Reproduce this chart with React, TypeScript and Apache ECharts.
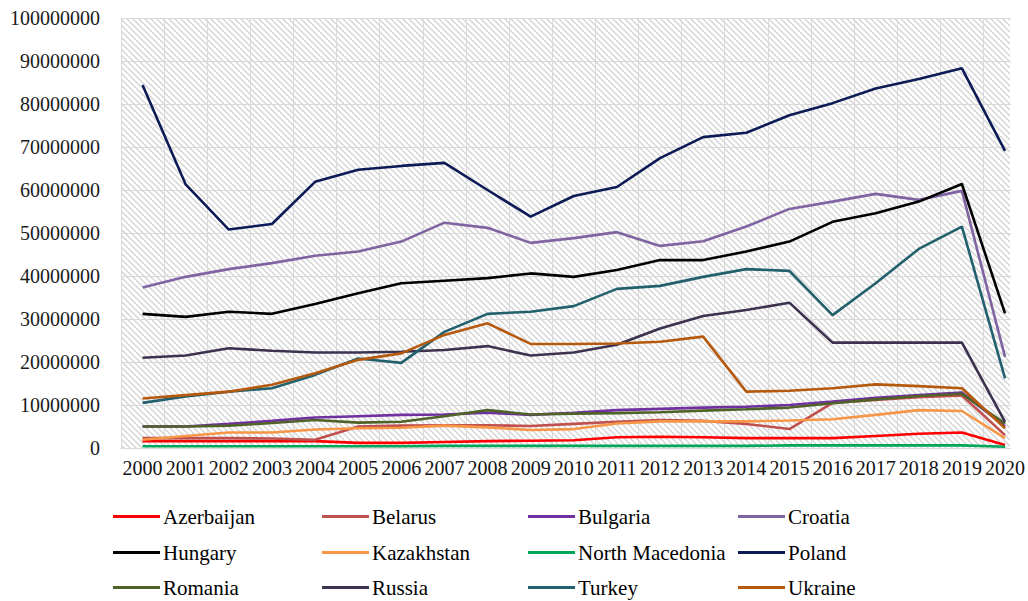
import React, { useEffect, useRef } from "react";
import * as echarts from "echarts";

// Years on the x axis
const years = [
  "2000", "2001", "2002", "2003", "2004", "2005", "2006", "2007", "2008", "2009", "2010",
  "2011", "2012", "2013", "2014", "2015", "2016", "2017", "2018", "2019", "2020",
];

// Values, in millions
const azerbaijan = [1.6, 1.6, 1.6, 1.6, 1.6, 1.2, 1.2, 1.4, 1.6, 1.7, 1.8, 2.5, 2.6, 2.5, 2.3, 2.3, 2.3, 2.8, 3.3, 3.6, 0.7];
const belarus = [2.3, 2.3, 2.3, 2.2, 1.9, 5.0, 5.2, 5.3, 5.3, 5.1, 5.6, 6.1, 6.5, 6.3, 5.6, 4.4, 10.5, 11.2, 11.8, 12.2, 3.0];
const bulgaria = [5.0, 5.0, 5.6, 6.3, 7.1, 7.4, 7.7, 7.8, 8.2, 7.7, 8.2, 8.8, 9.1, 9.4, 9.6, 10.0, 10.8, 11.7, 12.3, 12.9, 5.0];
const croatia = [37.3, 39.8, 41.6, 43.0, 44.7, 45.7, 48.0, 52.4, 51.2, 47.7, 48.8, 50.2, 47.0, 48.1, 51.5, 55.6, 57.3, 59.1, 57.7, 59.8, 21.2];
const hungary = [31.2, 30.5, 31.7, 31.2, 33.5, 36.0, 38.3, 38.9, 39.5, 40.6, 39.8, 41.4, 43.7, 43.7, 45.7, 48.0, 52.6, 54.6, 57.3, 61.4, 31.3];
const kazakhstan = [1.9, 2.8, 3.6, 3.6, 4.3, 4.6, 4.7, 5.2, 4.8, 4.2, 4.4, 5.7, 6.2, 6.2, 6.2, 6.4, 6.7, 7.7, 8.8, 8.6, 2.3];
const northMacedonia = [0.4, 0.4, 0.4, 0.4, 0.4, 0.4, 0.4, 0.5, 0.5, 0.5, 0.5, 0.5, 0.5, 0.5, 0.5, 0.6, 0.6, 0.6, 0.6, 0.6, 0.3];
const poland = [84.4, 61.3, 50.8, 52.1, 61.9, 64.7, 65.6, 66.3, 60.0, 53.8, 58.6, 60.7, 67.4, 72.3, 73.3, 77.4, 80.2, 83.6, 85.8, 88.3, 69.1];
const romania = [5.0, 5.0, 5.2, 5.8, 6.5, 5.9, 6.1, 7.4, 8.8, 7.8, 8.0, 8.1, 8.3, 8.7, 9.0, 9.4, 10.4, 11.3, 12.1, 12.6, 5.7];
const russia = [21.0, 21.5, 23.2, 22.6, 22.2, 22.2, 22.4, 22.8, 23.7, 21.5, 22.2, 24.0, 27.8, 30.7, 32.1, 33.8, 24.5, 24.5, 24.5, 24.5, 6.1];
const turkey = [10.5, 12.0, 13.1, 13.9, 17.0, 20.8, 19.8, 27.0, 31.2, 31.7, 33.0, 37.0, 37.7, 39.8, 41.6, 41.2, 30.9, 38.3, 46.3, 51.5, 16.2];
const ukraine = [11.5, 12.3, 13.1, 14.7, 17.4, 20.5, 22.0, 26.3, 29.0, 24.2, 24.2, 24.3, 24.7, 25.9, 13.1, 13.3, 13.9, 14.8, 14.4, 13.9, 4.6];

const countries = [
  { name: "Azerbaijan", data: azerbaijan, color: "#ff0000" },
  { name: "Belarus", data: belarus, color: "#c0504d" },
  { name: "Bulgaria", data: bulgaria, color: "#7030a0" },
  { name: "Croatia", data: croatia, color: "#8064a2" },
  { name: "Hungary", data: hungary, color: "#000000" },
  { name: "Kazakhstan", data: kazakhstan, color: "#f79646" },
  { name: "North Macedonia", data: northMacedonia, color: "#00a65a" },
  { name: "Poland", data: poland, color: "#0c1a55" },
  { name: "Romania", data: romania, color: "#4f6228" },
  { name: "Russia", data: russia, color: "#3d3150" },
  { name: "Turkey", data: turkey, color: "#23606e" },
  { name: "Ukraine", data: ukraine, color: "#b5590f" },
];

const legendCols = [113, 322, 528, 738];
const legendRows = [506, 542, 577];

function makeHatch(): HTMLCanvasElement {
  const c = document.createElement("canvas");
  c.width = 6;
  c.height = 6;
  const ctx = c.getContext("2d")!;
  ctx.fillStyle = "#ffffff";
  ctx.fillRect(0, 0, 6, 6);
  ctx.strokeStyle = "#d4d4d4";
  ctx.lineWidth = 1.4;
  for (const off of [-6, 0, 6]) {
    ctx.beginPath();
    ctx.moveTo(off - 1, -1);
    ctx.lineTo(off + 7, 7);
    ctx.stroke();
  }
  return c;
}

export default function App() {
  const ref = useRef<HTMLDivElement>(null);
  useEffect(() => {
    if (!ref.current) return;
    const chart = echarts.init(ref.current, undefined, { renderer: "svg" });
    const font = "'Liberation Serif', 'Times New Roman', serif";
    const hatch = makeHatch();
    chart.setOption({
      animation: false,
      backgroundColor: "#ffffff",
      grid: { left: 121, right: 0, top: 18, bottom: 153, containLabel: false },
      graphic: [
        {
          type: "rect",
          z: -10,
          silent: true,
          shape: { x: 121, y: 18, width: 889, height: 430 },
          style: { fill: { image: hatch, repeat: "repeat" } as any },
        },
        {
          type: "rect",
          z: 1,
          silent: true,
          shape: { x: 1011, y: 0, width: 20, height: 449 },
          style: { fill: "#ffffff" },
        },
      ],
      xAxis: {
        type: "category",
        data: years,
        boundaryGap: true,
        axisLine: { show: true, lineStyle: { color: "#d9d9d9", width: 1 } },
        axisTick: { show: false },
        splitLine: { show: true, lineStyle: { color: "#d9d9d9", width: 1 } },
        axisLabel: { color: "#111111", fontFamily: font, fontSize: 20, margin: 10, interval: 0 },
      },
      yAxis: {
        type: "value",
        min: 0,
        max: 100000000,
        interval: 10000000,
        axisLine: { show: false },
        axisTick: { show: false },
        splitLine: { show: true, lineStyle: { color: "#d9d9d9", width: 1 } },
        axisLabel: {
          color: "#1a1a1a",
          fontFamily: font,
          fontSize: 20,
          margin: 21,
          formatter: (v: number) => String(Math.round(v)),
        },
      },
      legend: countries.map((c, i) => ({
        data: [c.name],
        left: legendCols[i % 4],
        top: legendRows[Math.floor(i / 4)],
        icon: "rect",
        itemWidth: 47,
        itemHeight: 3,
        itemGap: 0,
        padding: 0,
        selectedMode: false,
        textStyle: { color: "#000000", fontFamily: font, fontSize: 21, padding: [0, 0, 0, -2] },
      })),
      series: countries.map((c) => ({
        name: c.name,
        type: "line",
        data: c.data.map((v) => v * 1000000),
        symbol: "none",
        showSymbol: false,
        z: 2,
        itemStyle: { color: c.color },
        lineStyle: { color: c.color, width: 2.6 },
      })),
    });
    return () => chart.dispose();
  }, []);
  return (
    <div
      ref={ref}
      style={{ position: "fixed", left: 0, top: 0, width: 1028, height: 601 }}
    />
  );
}
